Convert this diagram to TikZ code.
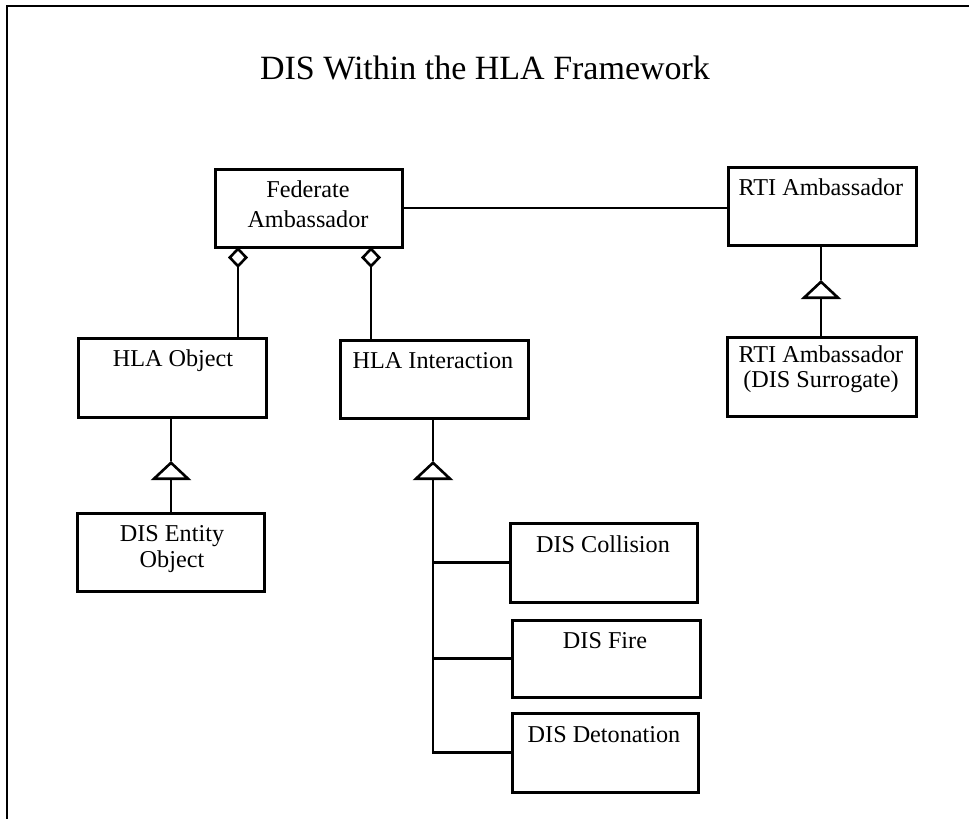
\documentclass[tikz,border=0pt]{standalone}
\usepackage{fontspec}
\setmainfont{Liberation Serif}
\usetikzlibrary{arrows.meta}

\tikzset{
  classbox/.style={draw, line width=3pt, rectangle, inner sep=0pt},
  lbl/.style={anchor=base, inner sep=0pt, font=\fontsize{24.2}{24.2}\selectfont},
  heading/.style={anchor=base, inner sep=0pt, font=\fontsize{34}{34}\selectfont},
  link/.style={line width=2.6pt},
  inherit/.style={link, {Triangle[open, length=19pt, width=40pt]}-},
  aggregate/.style={link, {Diamond[open, length=21pt, width=20pt]}-},
  frameline/.style={line width=2pt}
}

\begin{document}
\begin{tikzpicture}[x=1pt, y=-1pt]
  \useasboundingbox (0,0) rectangle (969,819);

  % page frame (top and left edges)
  \coordinate (fa) at (7,819);
  \coordinate (fb) at (7,6);
  \coordinate (fc) at (969,6);
  \draw[frameline] (fa) -- (fb) -- (fc);

  \node[heading] (title) at (485,79) {DIS Within the HLA Framework};

  % class boxes
  \node[classbox, minimum width=187pt, minimum height=78pt] (fed)  at (308.5,208) {};
  \node[classbox, minimum width=188pt, minimum height=78pt] (rti)  at (822,206) {};
  \node[classbox, minimum width=189pt, minimum height=79pt] (sur)  at (821.5,376.5) {};
  \node[classbox, minimum width=188pt, minimum height=79pt] (hobj) at (172,377.5) {};
  \node[classbox, minimum width=188pt, minimum height=78pt] (hint) at (434,379) {};
  \node[classbox, minimum width=187pt, minimum height=78pt] (ent)  at (171,552) {};
  \node[classbox, minimum width=187pt, minimum height=79pt] (col)  at (603.5,562.5) {};
  \node[classbox, minimum width=188pt, minimum height=77pt] (fire) at (606,658.5) {};
  \node[classbox, minimum width=186pt, minimum height=79pt] (det)  at (605,752.5) {};

  % class names
  \node[lbl] (fedA) at (308,197) {Federate};
  \node[lbl] (fedB) at (308,227) {Ambassador};
  \node[lbl] (rtiA) at (821,195) {RTI Ambassador};
  \node[lbl] (surA) at (821,362) {RTI Ambassador};
  \node[lbl] (surB) at (821,387) {(DIS Surrogate)};
  \node[lbl] (hobjA) at (173,366) {HLA Object};
  \node[lbl] (hintA) at (433,368) {HLA Interaction};
  \node[lbl] (entA) at (172,541) {DIS Entity};
  \node[lbl] (entB) at (172,567) {Object};
  \node[lbl] (colA) at (603,552) {DIS Collision};
  \node[lbl] (fireA) at (605,648) {DIS Fire};
  \node[lbl] (detA) at (604,742) {DIS Detonation};

  % association between the two ambassadors
  \draw[link] (fed.east) -- (fed.east -| rti.west);

  % aggregation from the federate ambassador
  \coordinate (dg1) at (238,247);
  \coordinate (dg2) at (371,247);
  \draw[aggregate] (dg1) -- (dg1 |- hobj.north);
  \draw[aggregate] (dg2) -- (dg2 |- hint.north);

  % RTI ambassador specialisation
  \coordinate (apR) at (821,280);
  \draw[link] (apR |- rti.south) -- (apR);
  \draw[inherit] (apR) -- (apR |- sur.north);

  % HLA object specialisation
  \coordinate (apO) at (171,461);
  \draw[link] (apO |- hobj.south) -- (apO);
  \draw[inherit] (apO) -- (apO |- ent.north);

  % HLA interaction specialisations
  \coordinate (apI) at (433,461);
  \draw[link] (apI |- hint.south) -- (apI);
  \draw[inherit] (apI) |- (det.west);
  \draw[link] (col.west) -- (col.west -| apI);
  \draw[link] (fire.west) -- (fire.west -| apI);
\end{tikzpicture}
\end{document}
